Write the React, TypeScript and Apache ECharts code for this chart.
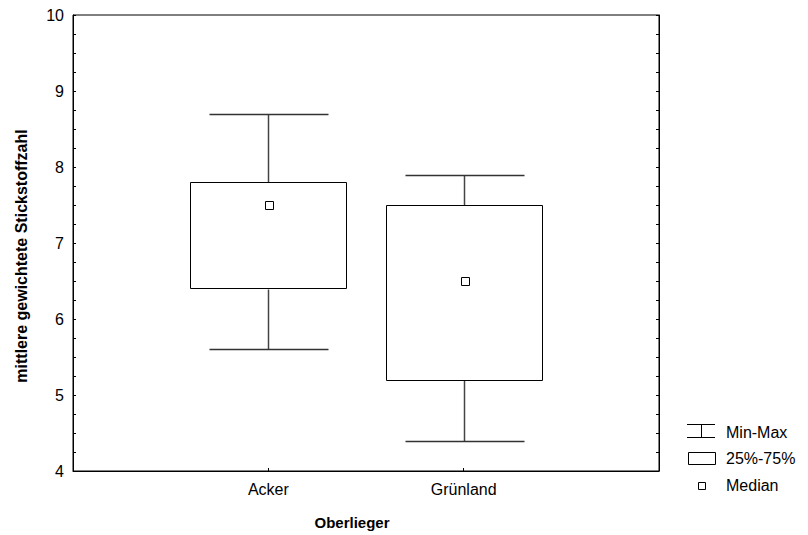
import React, { useEffect, useRef } from "react";
import * as echarts from "echarts";

const categories = ["Acker", "Grünland"];
const minValues = [5.6, 4.4];
const q1Values = [6.4, 5.2];
const medianValues = [7.5, 6.5];
const q3Values = [7.8, 7.5];
const maxValues = [8.7, 7.9];
const yTicks = [4, 5, 6, 7, 8, 9, 10];
const legendLabels = ["Min-Max", "25%-75%", "Median"];
const yAxisTitle = "mittlere gewichtete Stickstoffzahl";
const xAxisTitle = "Oberlieger";

const FONT = "Liberation Sans, Arial, sans-serif";

export default function App() {
  const ref = useRef<HTMLDivElement>(null);
  useEffect(() => {
    if (!ref.current) return;
    const chart = echarts.init(ref.current, null, { renderer: "svg" });
    const axisCats = ["", ...categories, ""];
    const data = categories.map((c, i) => [
      i + 1,
      minValues[i],
      q1Values[i],
      medianValues[i],
      q3Values[i],
      maxValues[i],
    ]);
    chart.setOption({
      animation: false,
      backgroundColor: "#fff",
      grid: {
        left: 73,
        top: 15,
        right: 149,
        bottom: 64,
        show: true,
        borderColor: "#000",
        borderWidth: 1,
        backgroundColor: "transparent",
      },
      xAxis: {
        type: "category",
        data: axisCats,
        boundaryGap: false,
        axisLine: { lineStyle: { color: "#000", width: 1 } },
        axisTick: { inside: true, length: 3, lineStyle: { color: "#000" } },
        axisLabel: { color: "#000", fontSize: 16, fontFamily: FONT, margin: 10 },
        splitLine: { show: false },
      },
      yAxis: [
        {
          type: "value",
          min: yTicks[0],
          max: yTicks[yTicks.length - 1],
          interval: 1,
          axisLine: { show: true, lineStyle: { color: "#000", width: 1 } },
          axisTick: { show: true, inside: true, length: 3, lineStyle: { color: "#000" } },
          minorTick: { show: true, splitNumber: 4, length: 3, lineStyle: { color: "#000" } },
          axisLabel: { color: "#000", fontSize: 16, fontFamily: FONT, margin: 9 },
          splitLine: { show: false },
        },
        {
          type: "value",
          position: "right",
          min: yTicks[0],
          max: yTicks[yTicks.length - 1],
          interval: 1,
          axisLine: { show: true, lineStyle: { color: "#000", width: 1 } },
          axisTick: { show: true, inside: true, length: 3, lineStyle: { color: "#000" } },
          minorTick: { show: true, splitNumber: 4, length: 3, lineStyle: { color: "#000" } },
          axisLabel: { show: false },
          splitLine: { show: false },
        },
      ],
      series: [
        {
          type: "custom",
          data,
          encode: { x: 0, y: [1, 2, 3, 4, 5] },
          renderItem: (params: any, api: any) => {
            const idx = api.value(0);
            const step = api.coord([2, 4])[0] - api.coord([1, 4])[0];
            const pMin = api.coord([idx, api.value(1)]);
            const pQ1 = api.coord([idx, api.value(2)]);
            const pMed = api.coord([idx, api.value(3)]);
            const pQ3 = api.coord([idx, api.value(4)]);
            const pMax = api.coord([idx, api.value(5)]);
            const cx = Math.round(pMin[0]) + 0.5;
            const boxW = step * 0.8;
            const capW = step * 0.605;
            const r = (v: number) => Math.round(v) + 0.5;
            return {
              type: "group",
              children: [
                { type: "line", shape: { x1: cx, y1: r(pMax[1]), x2: cx, y2: r(pQ3[1]) }, style: { stroke: "#444", lineWidth: 1.5 } },
                { type: "line", shape: { x1: cx, y1: r(pQ1[1]), x2: cx, y2: r(pMin[1]) }, style: { stroke: "#444", lineWidth: 1.5 } },
                { type: "line", shape: { x1: r(cx - capW / 2), y1: r(pMax[1]), x2: r(cx + capW / 2), y2: r(pMax[1]) }, style: { stroke: "#333", lineWidth: 1.3 } },
                { type: "line", shape: { x1: r(cx - capW / 2), y1: r(pMin[1]), x2: r(cx + capW / 2), y2: r(pMin[1]) }, style: { stroke: "#333", lineWidth: 1.3 } },
                {
                  type: "rect",
                  shape: { x: r(cx - boxW / 2), y: r(pQ3[1]), width: Math.round(boxW), height: Math.round(pQ1[1] - pQ3[1]) },
                  style: { stroke: "#000", lineWidth: 1, fill: "#fff" },
                },
                {
                  type: "rect",
                  shape: { x: r(cx - 4), y: r(pMed[1] - 4), width: 8, height: 8 },
                  style: { stroke: "#000", lineWidth: 1, fill: "#fff" },
                },
              ],
            };
          },
        },
      ],
      graphic: [
        {
          type: "text",
          x: 21,
          y: 256,
          rotation: Math.PI / 2,
          style: {
            text: yAxisTitle,
            font: `bold 16px ${FONT}`,
            fill: "#000",
            align: "center",
            verticalAlign: "middle",
          },
        },
        {
          type: "text",
          x: 352,
          y: 522,
          style: {
            text: xAxisTitle,
            font: `bold 15px ${FONT}`,
            fill: "#000",
            align: "center",
            verticalAlign: "middle",
          },
        },
        // legend: Min-Max
        { type: "line", shape: { x1: 687, y1: 424.5, x2: 715, y2: 424.5 }, style: { stroke: "#000", lineWidth: 1 } },
        { type: "line", shape: { x1: 701.5, y1: 424.5, x2: 701.5, y2: 437.5 }, style: { stroke: "#000", lineWidth: 1 } },
        { type: "line", shape: { x1: 687, y1: 437.5, x2: 715, y2: 437.5 }, style: { stroke: "#000", lineWidth: 1 } },
        { type: "text", x: 726, y: 432, style: { text: legendLabels[0], font: `16px ${FONT}`, fill: "#000", verticalAlign: "middle" } },
        // legend: box
        { type: "rect", shape: { x: 688.5, y: 452.5, width: 27, height: 12 }, style: { stroke: "#000", lineWidth: 1, fill: "#fff" } },
        { type: "text", x: 726, y: 458, style: { text: legendLabels[1], font: `16px ${FONT}`, fill: "#000", verticalAlign: "middle" } },
        // legend: median
        { type: "rect", shape: { x: 698.5, y: 482.5, width: 7, height: 7 }, style: { stroke: "#000", lineWidth: 1, fill: "#fff" } },
        { type: "text", x: 726, y: 485, style: { text: legendLabels[2], font: `16px ${FONT}`, fill: "#000", verticalAlign: "middle" } },
      ],
    });
    return () => chart.dispose();
  }, []);
  return (
    <div
      ref={ref}
      style={{ position: "absolute", left: 0, top: 0, width: 808, height: 535 }}
    />
  );
}
